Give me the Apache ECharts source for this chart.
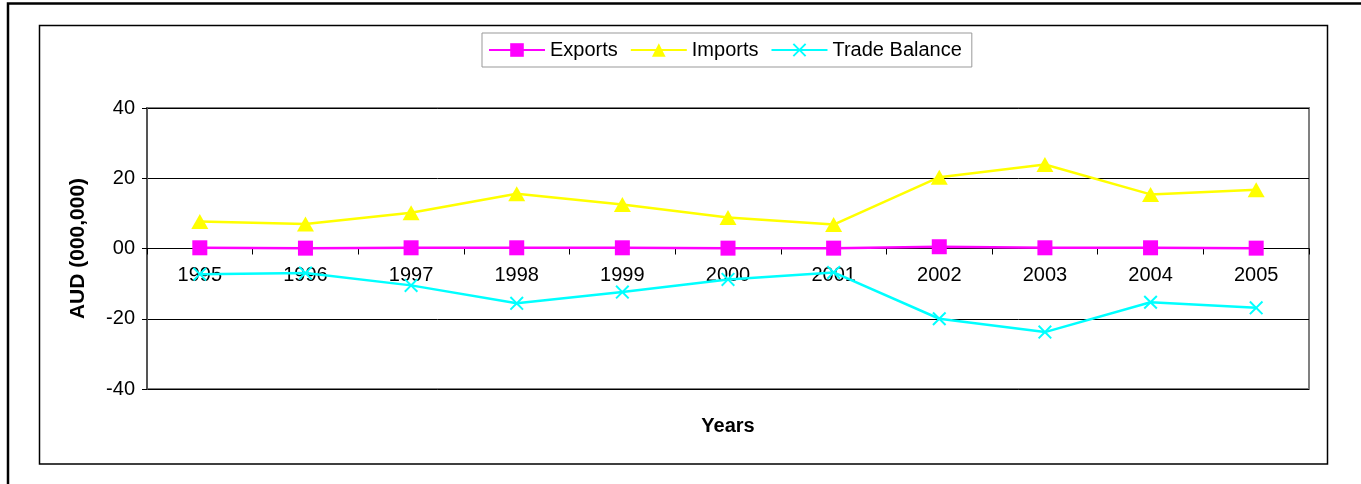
<!DOCTYPE html>
<html>
<head>
<meta charset="utf-8">
<script src="https://cdn.jsdelivr.net/npm/echarts@6/dist/echarts.min.js"></script>
<style>
    html, body { margin: 0; padding: 0; background: #fff; }
    #chart { width: 1361px; height: 484px; }
</style>
</head>
<body>
<div id="chart"></div>
<script>
// 数据
const years = ['1995', '1996', '1997', '1998', '1999', '2000', '2001', '2002', '2003', '2004', '2005'];
const exportsData = [0.2, 0.1, 0.2, 0.2, 0.2, 0.1, 0.1, 0.5, 0.2, 0.2, 0.1];
const importsData = [7.7, 7.0, 10.2, 15.6, 12.5, 8.8, 6.8, 20.3, 23.9, 15.4, 16.7];
const balanceData = [-7.3, -7.0, -10.5, -15.6, -12.4, -8.8, -6.8, -20.0, -23.8, -15.3, -16.9];
const yTicks = { min: -40, max: 40, interval: 20 };

const font = 'Liberation Sans, Arial, sans-serif';
const crossPath = 'path://M0,1L1,0L5,4L9,0L10,1L6,5L10,9L9,10L5,6L1,10L0,9L4,5Z';

const myChart = echarts.init(document.getElementById('chart'), null, { renderer: 'canvas' });

const option = {
    backgroundColor: '#fff',
    animation: false,
    textStyle: { fontFamily: font },
    // 外框和内框
    graphic: [
        { type: 'rect', shape: { x: 8, y: 3.5, width: 1360, height: 500 }, style: { fill: 'none', stroke: '#000', lineWidth: 2.5 } },
        { type: 'rect', shape: { x: 39.5, y: 25.5, width: 1288, height: 438.5 }, style: { fill: 'none', stroke: '#000', lineWidth: 1.5 } }
    ],
    legend: {
        top: 33,
        left: 482,
        itemWidth: 56,
        itemHeight: 17,
        itemGap: 12,
        padding: [7, 10, 7, 6],
        borderColor: '#999',
        borderWidth: 1,
        textStyle: { fontSize: 20, color: '#000', fontFamily: font },
        data: ['Exports', 'Imports', 'Trade Balance']
    },
    grid: {
        left: 147, right: 52, top: 108, bottom: 95,
        outerBoundsMode: 'none',
        containLabel: false,
        show: true,
        borderColor: '#808080',
        borderWidth: 2
    },
    xAxis: {
        type: 'category',
        data: years,
        boundaryGap: true,
        name: 'Years',
        nameLocation: 'middle',
        nameGap: 27,
        nameTextStyle: { fontSize: 20, fontWeight: 'bold', color: '#000', fontFamily: font },
        axisLine: { onZero: true, lineStyle: { color: '#000', width: 1 } },
        axisTick: { show: true, length: 6, lineStyle: { color: '#000' } },
        axisLabel: { fontSize: 20, color: '#000', margin: -124, fontFamily: font },
        splitLine: { show: false }
    },
    yAxis: {
        type: 'value',
        min: yTicks.min,
        max: yTicks.max,
        interval: yTicks.interval,
        name: 'AUD (000,000)',
        nameLocation: 'middle',
        nameGap: 58,
        nameTextStyle: { fontSize: 21, fontWeight: 'bold', color: '#000', fontFamily: font },
        axisLine: { show: true, lineStyle: { color: '#555', width: 2 } },
        axisTick: { show: true, length: 5, lineStyle: { color: '#000' } },
        axisLabel: {
            fontSize: 20, color: '#000', margin: 12, fontFamily: font,
            formatter: (v) => (v === 0 ? '00' : String(v))
        },
        splitLine: { show: true, lineStyle: { color: '#000', width: 1 } }
    },
    series: [
        {
            name: 'Exports',
            type: 'line',
            data: exportsData,
            symbol: 'rect',
            symbolSize: 15,
            lineStyle: { color: '#ff00ff', width: 2.5 },
            itemStyle: { color: '#ff00ff' },
            z: 4
        },
        {
            name: 'Imports',
            type: 'line',
            data: importsData,
            symbol: 'triangle',
            symbolSize: [17, 15],
            lineStyle: { color: '#ffff00', width: 2.5 },
            itemStyle: { color: '#ffff00' },
            z: 3
        },
        {
            name: 'Trade Balance',
            type: 'line',
            data: balanceData,
            symbol: crossPath,
            symbolSize: 14,
            lineStyle: { color: '#00ffff', width: 2.5 },
            itemStyle: { color: '#00ffff' },
            z: 2
        }
    ]
};

myChart.setOption(option, true);
</script>
</body>
</html>
